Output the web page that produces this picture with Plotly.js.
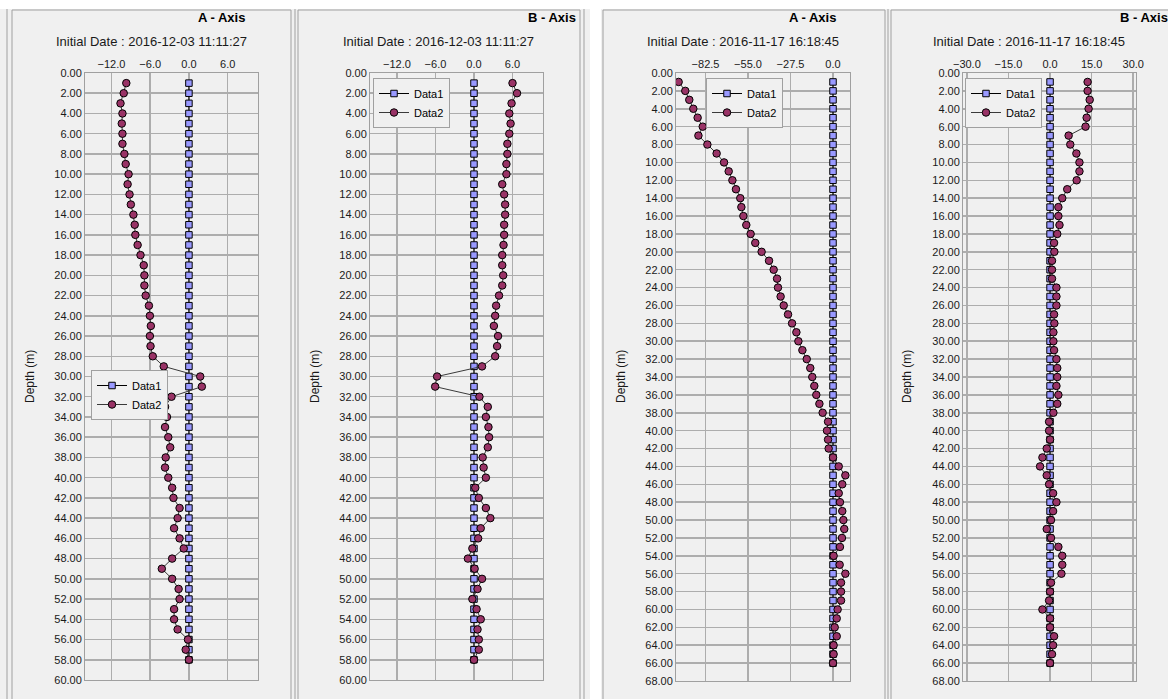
<!DOCTYPE html>
<html>
<head>
<meta charset="utf-8">
<script src="https://cdn.plot.ly/plotly-3.0.1.min.js"></script>
<style>
  html, body { margin: 0; padding: 0; background: #ffffff; }
  #chart { width: 1168px; height: 699px; }
</style>
</head>
<body>
<div id="chart"></div>
<script>
// ---------------- DATA ----------------
// Survey of 2016-12-03 (depths 1..58 m)
const depthDec = [1,2,3,4,5,6,7,8,9,10,11,12,13,14,15,16,17,18,19,20,21,22,23,24,25,26,27,28,29,30,
  31,32,33,34,35,36,37,38,39,40,41,42,43,44,45,46,47,48,49,50,51,52,53,54,55,56,57,58];
const decA_data1 = [0,0,0,0,0,0,0,0,0,0,0,0,0,0,0,0,0,0,0,0,0,0,0,0,0,0,0,0,0,0,
  0,0,0,0,0,0,0,0,0,0,0,0,0,0,0,0,0,0,0,0,0,0,0,0,0,0,0,0];
const decA_data2 = [-9.7,-10.1,-10.6,-10.3,-10.4,-10.3,-10.3,-10.0,-9.8,-9.35,-9.5,-9.2,-9.0,-8.6,-8.4,-8.3,-7.95,-7.5,-7.0,-6.9,
  -6.9,-6.7,-6.2,-6.05,-5.9,-6.05,-5.95,-5.6,-3.9,1.75,2.0,-2.7,-3.7,-3.4,-3.7,-3.2,-2.9,-3.6,-3.7,-3.2,
  -2.6,-2.4,-1.45,-1.75,-2.3,-1.45,-0.8,-2.6,-4.2,-2.6,-1.6,-1.45,-2.3,-2.3,-1.75,-0.15,-0.5,0.0];
const decB_data1 = [0,0,0,0,0,0,0,0,0,0,0,0,0,0,0,0,0,0,0,0,0,0,0,0,0,0,0,0,0,0,
  0,0,0,0,0,0,0,0,0,0,0,0,0,0,0,0,0,0,0,0,0,0,0,0,0,0,0,0];
const decB_data2 = [6.0,6.7,5.85,5.5,5.7,5.5,5.2,5.2,5.05,5.05,4.4,4.7,4.85,4.85,4.7,4.7,4.6,4.4,4.4,4.55,
  4.4,3.9,3.45,3.3,3.1,3.75,3.6,3.3,1.25,-5.75,-6.05,0.85,2.15,1.85,2.25,2.35,2.15,1.35,1.5,1.85,
  0.2,0.75,1.85,2.55,1.05,0.65,-0.25,-0.95,0.1,1.25,0.55,-0.25,0.4,1.05,0.55,0.75,0.75,0.0];

// Survey of 2016-11-17 (depths 1..66 m)
const depthNov = [1,2,3,4,5,6,7,8,9,10,11,12,13,14,15,16,17,18,19,20,21,22,23,24,25,26,27,28,29,30,
  31,32,33,34,35,36,37,38,39,40,41,42,43,44,45,46,47,48,49,50,51,52,53,54,55,56,57,58,59,60,
  61,62,63,64,65,66];
const novA_data1 = [0,0,0,0,0,0,0,0,0,0,0,0,0,0,0,0,0,0,0,0,0,0,0,0,0,0,0,0,0,0,
  0,0,0,0,0,0,0,0,0,0,0,0,0,0,0,0,0,0,0,0,0,0,0,0,0,0,0,0,0,0,0,0,0,0,0,0];
const novA_data2 = [-99.9,-95.6,-93.0,-90.4,-87.6,-84.3,-87.1,-81.3,-75.3,-70.5,-67.5,-65.1,-62.8,-60.0,-59.3,-58.0,-56.1,-53.3,-50.3,-46.2,
  -41.4,-38.4,-36.2,-35.6,-33.9,-31.9,-29.1,-26.5,-23.7,-22.4,-19.8,-17.0,-14.7,-13.4,-12.1,-10.8,-8.8,-6.7,-3.2,-3.9,
  -3.2,-2.8,0.0,3.7,8.0,6.0,3.7,4.5,6.0,6.7,7.3,5.8,4.5,0.4,4.3,8.0,5.2,5.2,5.2,3.0,
  2.4,1.1,2.4,0.4,0.4,0.0];
const novB_data1 = [0,0,0,0,0,0,0,0,0,0,0,0,0,0,0,0,0,0,0,0,0,0,0,0,0,0,0,0,0,0,
  0,0,0,0,0,0,0,0,0,0,0,0,0,0,0,0,0,0,0,0,0,0,0,0,0,0,0,0,0,0,0,0,0,0,0,0];
const novB_data2 = [13.55,13.55,14.3,13.9,13.2,12.8,6.7,7.3,9.5,10.6,10.6,9.6,6.2,4.4,3.0,3.0,3.4,2.6,1.45,1.55,
  0.7,0.7,0.7,2.3,2.3,2.3,1.45,1.55,1.2,1.2,1.45,2.3,2.6,2.6,2.3,3.0,2.6,1.2,-0.35,-0.35,
  0.0,-1.2,-2.75,-3.6,-1.2,-0.35,1.1,2.3,1.1,0.35,-1.2,0.35,3.0,4.4,4.4,4.1,0.35,0.0,-0.35,-2.75,
  0.0,0.0,1.45,1.1,0.7,0.0];

const panelAxisNames = ["A - Axis", "B - Axis", "A - Axis", "B - Axis"];
const panelDates = ["Initial Date : 2016-12-03 11:11:27", "Initial Date : 2016-12-03 11:11:27",
                    "Initial Date : 2016-11-17 16:18:45", "Initial Date : 2016-11-17 16:18:45"];
const seriesNames = ["Data1", "Data2"];
const depthTitle = "Depth (m)";

// ---------------- LAYOUT HELPERS ----------------
const W = 1168, H = 699;
const px = v => v / W;
const py = v => 1 - v / H;
const FONT = "Liberation Sans, Arial, sans-serif";

const panels = [
  {depth: depthDec, d1: decA_data1, d2: decA_data2, xr: [-16.1, 10.7], dtick: 6,    fmt: ".1f", x0: 85,  x1: 258,  yb: 680, ymax: 60,
   titleX: 221, dateX: 151, depthX: 30,  leg: [91, 370]},
  {depth: depthDec, d1: decB_data1, d2: decB_data2, xr: [-16.2, 10.75], dtick: 6,   fmt: ".1f", x0: 370, x1: 543,  yb: 680, ymax: 60,
   titleX: 552, dateX: 438, depthX: 315, leg: [373, 78]},
  {depth: depthNov, d1: novA_data1, d2: novA_data2, xr: [-101.6, 11], dtick: 27.5,  fmt: ".1f", x0: 676, x1: 850,  yb: 681, ymax: 68,
   titleX: 812, dateX: 743, depthX: 621, leg: [706, 78]},
  {depth: depthNov, d1: novB_data1, d2: novB_data2, xr: [-31.4, 31], dtick: 15,     fmt: ".1f", x0: 963, x1: 1136, yb: 681, ymax: 68,
   titleX: 1144, dateX: 1029, depthX: 907, leg: [965, 78]}
];

const traces = [];
const layout = {
  width: W, height: H,
  margin: {l: 0, r: 0, t: 0, b: 0},
  paper_bgcolor: "#ffffff",
  plot_bgcolor: "#ffffff",
  font: {family: FONT, size: 11, color: "#1a1a1a"},
  showlegend: true,
  shapes: [],
  annotations: []
};

panels.forEach((p, i) => {
  const n = i + 1;
  const xa = n === 1 ? "x" : "x" + n;
  const ya = n === 1 ? "y" : "y" + n;
  const legName = n === 1 ? "legend" : "legend" + n;

  traces.push({
    type: "scatter", mode: "lines+markers", name: seriesNames[0],
    x: p.d1, y: p.depth, xaxis: xa, yaxis: ya, legend: legName,
    line: {color: "#000000", width: 1},
    marker: {symbol: "square", size: 6.5, color: "#9999ff", line: {color: "#000000", width: 1}},
    hoverinfo: "x+y"
  });
  traces.push({
    type: "scatter", mode: "lines+markers", name: seriesNames[1],
    x: p.d2, y: p.depth, xaxis: xa, yaxis: ya, legend: legName,
    line: {color: "#3a3a3a", width: 1},
    marker: {symbol: "circle", size: 7.5, color: "#993366", line: {color: "#000000", width: 1}},
    hoverinfo: "x+y"
  });

  const xKey = n === 1 ? "xaxis" : "xaxis" + n;
  const yKey = n === 1 ? "yaxis" : "yaxis" + n;
  layout[xKey] = {
    domain: [px(p.x0), px(p.x1)],
    anchor: ya, side: "top",
    range: p.xr, tick0: 0, dtick: p.dtick, tickformat: p.fmt,
    showgrid: true, gridcolor: "#adadad", gridwidth: 1.5,
    zeroline: false, showline: true, mirror: true, linecolor: "#a0a0a0", linewidth: 1,
    ticks: "", tickfont: {family: FONT, size: 11, color: "#1a1a1a"},
    fixedrange: true
  };
  layout[yKey] = {
    domain: [py(p.yb), py(73)],
    anchor: xa,
    range: [p.ymax, 0], tick0: 0, dtick: 2, tickformat: ".2f",
    showgrid: true, gridcolor: "#adadad", gridwidth: 1.5,
    zeroline: false, showline: true, mirror: true, linecolor: "#a0a0a0", linewidth: 1,
    ticks: "", tickfont: {family: FONT, size: 11, color: "#1a1a1a"},
    fixedrange: true
  };
  layout[legName] = {
    x: px(p.leg[0]), y: py(p.leg[1]), xanchor: "left", yanchor: "top",
    bgcolor: "#f0f0f0", bordercolor: "#a0a0a0", borderwidth: 1,
    font: {family: FONT, size: 11, color: "#000000"},
    itemwidth: 30, tracegroupgap: 0
  };

  layout.annotations.push({
    xref: "paper", yref: "paper", x: px(p.titleX), y: py(17), xanchor: "center", yanchor: "middle",
    text: "<b>" + panelAxisNames[i] + "</b>", showarrow: false,
    font: {family: FONT, size: 13, color: "#000000"}
  });
  layout.annotations.push({
    xref: "paper", yref: "paper", x: px(p.dateX), y: py(42), xanchor: "center", yanchor: "middle",
    text: panelDates[i], showarrow: false,
    font: {family: FONT, size: 13, color: "#1a1a1a"}
  });
  layout.annotations.push({
    xref: "paper", yref: "paper", x: px(p.depthX), y: py(377), xanchor: "center", yanchor: "middle",
    text: depthTitle, textangle: -90, showarrow: false,
    font: {family: FONT, size: 12, color: "#1a1a1a"}
  });
});

// panel backgrounds and frames
function rect(x0, y0, x1, y1, fill, line) {
  return {type: "rect", xref: "paper", yref: "paper", layer: "below",
          x0: px(x0), x1: px(x1), y0: py(y1), y1: py(y0),
          fillcolor: fill || "rgba(0,0,0,0)", line: line ? {color: line, width: 1} : {width: 0}};
}
function vline(x, y0, y1, c) {
  return {type: "line", xref: "paper", yref: "paper", layer: "below",
          x0: px(x), x1: px(x), y0: py(y1), y1: py(y0), line: {color: c, width: 1}};
}
layout.shapes.push(rect(0, 9, 590, 699, "#f0f0f0", null));
layout.shapes.push(rect(601, 9, 1168, 699, "#f0f0f0", null));
layout.shapes.push(rect(12, 10, 291, 702, null, "#a0a0a0"));
layout.shapes.push(vline(7, 9, 699, "#a0a0a0"));
layout.shapes.push(vline(295, 9, 699, "#a0a0a0"));
layout.shapes.push(rect(298, 10, 580, 702, null, "#a0a0a0"));
layout.shapes.push(vline(584, 9, 699, "#a0a0a0"));
layout.shapes.push(rect(603, 10, 885, 702, null, "#a0a0a0"));
layout.shapes.push(vline(888, 9, 699, "#a0a0a0"));
layout.shapes.push(rect(891, 10, 1172, 702, null, "#a0a0a0"));

Plotly.newPlot("chart", traces, layout, {displayModeBar: false, staticPlot: true});
</script>
</body>
</html>
